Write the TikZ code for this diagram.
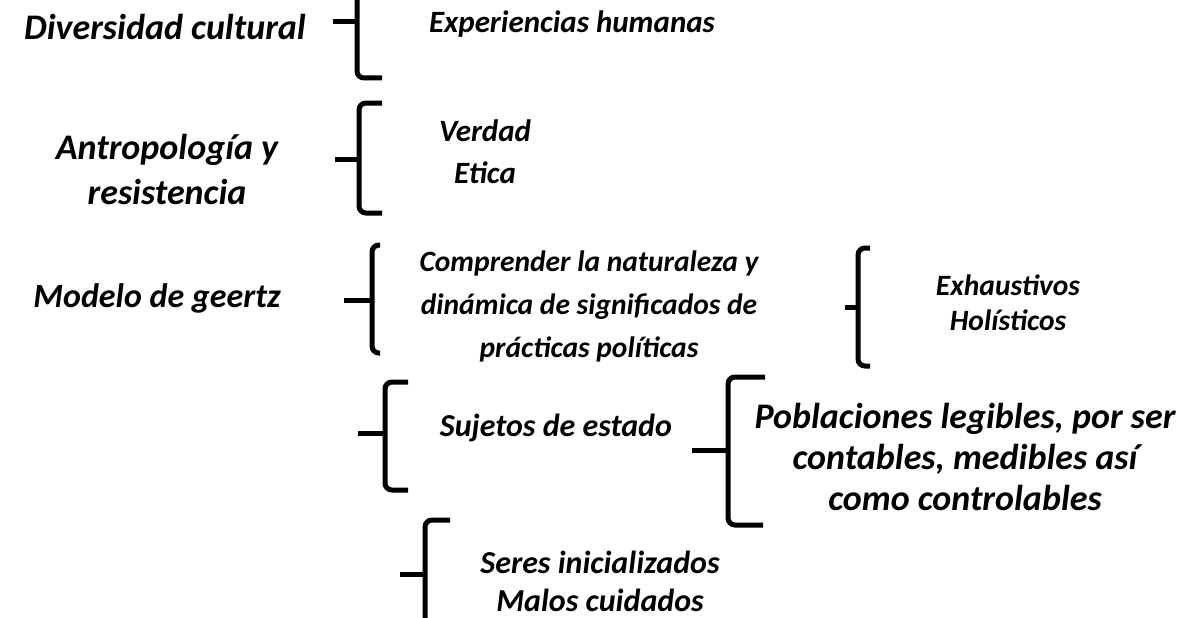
\documentclass[tikz,border=0pt]{standalone}
\usepackage{fontspec}
\setmainfont{Carlito}
\begin{document}
\begin{tikzpicture}[
    x=1pt, y=-1pt,
    brace/.style={draw=black, line width=5pt, rounded corners=7pt},
    big/.style={font=\fontsize{36}{45}\selectfont\bfseries\itshape, align=center, inner sep=0pt},
    small/.style={font=\fontsize{31}{42}\selectfont\bfseries\itshape, align=center, inner sep=0pt}
]
\useasboundingbox (0,0) rectangle (1186,618);
\clip (0,0) rectangle (1186,618);

% Left titles
\node[big] (div) at (165,27) {Diversidad cultural};
\node[big] (antro) at (167,170) {Antropología y\\resistencia};
\node[big, font=\fontsize{34}{45}\selectfont\bfseries\itshape] (geertz) at (157,298) {Modelo de geertz};

% Contents
\node[small] (exper) at (572,24) {Experiencias humanas};
\node[small] (verdad) at (485,152) {Verdad\\Etica};
\node[small, font=\fontsize{29.5}{43}\selectfont\bfseries\itshape] (compr) at (589,306) {Comprender la naturaleza y\\dinámica de significados de\\prácticas políticas};
\node[small, font=\fontsize{29.5}{35}\selectfont\bfseries\itshape] (exha) at (1008,303) {Exhaustivos\\Holísticos};
\node[small, font=\fontsize{32}{42}\selectfont\bfseries\itshape] (sujetos) at (556,428) {Sujetos de estado};
\node[small, font=\fontsize{36}{41}\selectfont\bfseries\itshape] (pobl) at (965,457) {Poblaciones legibles, por ser\\contables, medibles así\\como controlables};
\node[small, font=\fontsize{32}{38}\selectfont\bfseries\itshape] (seres) at (600,581) {Seres inicializados\\Malos cuidados};

% Braces
\draw[brace] (382,-34) -- (357,-34) -- (357,78) -- (382,78);
\draw[brace, rounded corners=0pt] (333,22) -- (357,22);

\draw[brace] (382,103) -- (359,103) -- (359,213) -- (382,213);
\draw[brace, rounded corners=0pt] (335,159) -- (359,159);

\draw[brace] (380,245) -- (372,245) -- (372,353) -- (380,353);
\draw[brace, rounded corners=0pt] (344,300) -- (372,300);

\draw[brace] (870,248) -- (858,248) -- (858,366) -- (870,366);
\draw[brace, rounded corners=0pt] (845,307) -- (858,307);

\draw[brace] (408,382) -- (385,382) -- (385,490) -- (408,490);
\draw[brace, rounded corners=0pt] (358,433) -- (385,433);

\draw[brace] (765,377) -- (728,377) -- (728,525) -- (763,525);
\draw[brace, rounded corners=0pt] (692,450) -- (728,450);

\draw[brace] (450,520) -- (425,520) -- (425,630) -- (450,630);
\draw[brace, rounded corners=0pt] (400,574) -- (425,574);

\end{tikzpicture}
\end{document}
